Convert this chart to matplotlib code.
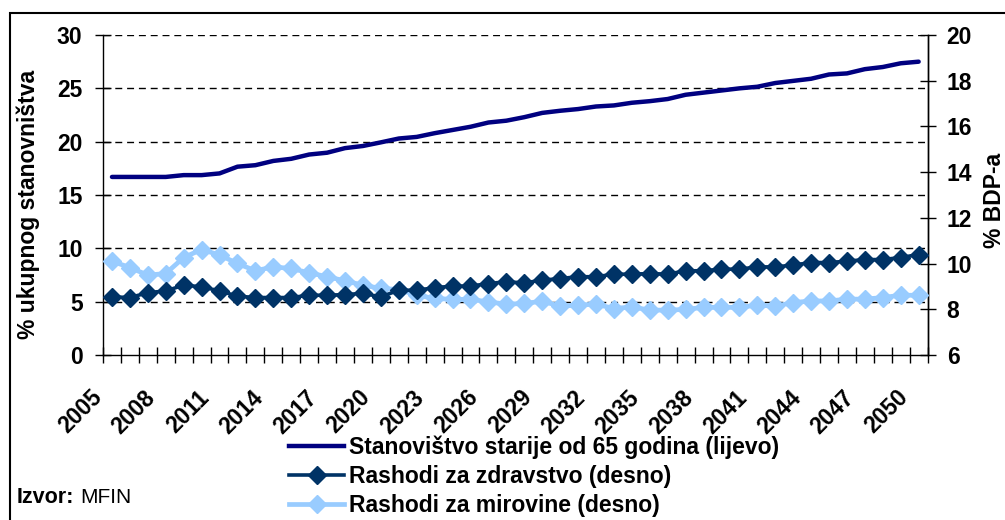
import matplotlib
matplotlib.use('Agg')
import matplotlib.pyplot as plt
from matplotlib.patches import Rectangle
from matplotlib.lines import Line2D
from matplotlib.transforms import ScaledTranslation
import numpy as np

years = list(range(2005, 2051))
year_labels = [str(y) if (y - 2005) % 3 == 0 else '' for y in years]

# % of total population aged 65+ (left axis)
population_65 = [16.7, 16.7, 16.7, 16.7, 16.87, 16.87, 17.03, 17.66, 17.8, 18.2,
                 18.4, 18.8, 18.97, 19.4, 19.6, 19.94, 20.3, 20.45, 20.8, 21.1,
                 21.4, 21.8, 21.97, 22.3, 22.7, 22.9, 23.06, 23.3, 23.4, 23.65,
                 23.8, 24.0, 24.4, 24.6, 24.8, 25.0, 25.15, 25.5, 25.7, 25.9,
                 26.3, 26.4, 26.8, 27.0, 27.35, 27.5]

# health expenditure, % GDP (right axis)
health = [8.55, 8.52, 8.73, 8.81, 9.06, 8.99, 8.81, 8.58, 8.52, 8.52,
          8.52, 8.62, 8.62, 8.65, 8.70, 8.55, 8.84, 8.84, 8.95, 9.02,
          9.02, 9.13, 9.21, 9.16, 9.28, 9.35, 9.43, 9.43, 9.54, 9.54,
          9.57, 9.54, 9.69, 9.69, 9.76, 9.76, 9.86, 9.86, 9.94, 10.05,
          10.05, 10.11, 10.18, 10.18, 10.27, 10.40]

# pension expenditure, % GDP (right axis)
pensions = [10.11, 9.83, 9.50, 9.57, 10.27, 10.62, 10.38, 10.01, 9.69, 9.86,
            9.79, 9.60, 9.43, 9.25, 9.06, 8.92, 8.87, 8.62, 8.48, 8.44,
            8.44, 8.33, 8.23, 8.26, 8.36, 8.14, 8.19, 8.23, 8.04, 8.11,
            7.97, 7.97, 8.00, 8.09, 8.09, 8.09, 8.19, 8.14, 8.30, 8.37,
            8.37, 8.45, 8.45, 8.52, 8.62, 8.62]

series_labels = ['Stanovištvo starije od 65 godina (lijevo)',
                 'Rashodi za zdravstvo (desno)',
                 'Rashodi za mirovine (desno)']

plt.rcParams['font.family'] = ['Liberation Sans', 'DejaVu Sans']
plt.rcParams['font.weight'] = 'bold'
FS = 16.5

c_pop = '#000080'
c_health = '#003366'
c_pens = '#99ccff'

fig = plt.figure(figsize=(10.05, 5.2), dpi=100)
ax = fig.add_axes([0.1025, 0.317, 0.8205, 0.6157])
ax2 = ax.twinx()

x = np.arange(len(years))
ax.plot(x, population_65, color=c_pop, lw=3.2, solid_capstyle='round', zorder=5)
ax2.plot(x, pensions, color=c_pens, lw=3.4, marker='D', ms=9.5, zorder=3)
ax2.plot(x, health, color=c_health, lw=2.6, marker='D', ms=9.5, zorder=4)

ax.set_xlim(-0.5, len(years) - 0.5)
ax.set_ylim(0, 30)
ax2.set_ylim(6, 20)
ax.set_yticks(range(0, 31, 5))
ax2.set_yticks(range(6, 21, 2))

ax.set_xticks(np.arange(-0.5, len(years)), minor=False)
ax.set_xticklabels([])
ax.set_xticks(x, minor=True)
ax.set_xticklabels(year_labels, minor=True, rotation=45, ha='right', va='top',
                   rotation_mode='anchor', fontsize=FS, fontweight='bold')
ax.tick_params(axis='x', which='major', direction='inout', length=11.5, width=1)
ax.tick_params(axis='x', which='minor', length=0, pad=12)
shift = ScaledTranslation(-0.22, -0.14, fig.dpi_scale_trans)
for lab in ax.get_xticklabels(minor=True):
    lab.set_transform(lab.get_transform() + shift)

ax.tick_params(axis='y', direction='inout', length=11.5, width=1, labelsize=FS, pad=9)
ax2.tick_params(axis='y', direction='inout', length=11.5, width=1, labelsize=FS, pad=8)

for a in (ax, ax2):
    a.spines['top'].set_visible(False)
    for s in a.spines.values():
        s.set_linewidth(1)
ax2.spines['left'].set_visible(False)
ax2.spines['bottom'].set_visible(False)

for v in range(5, 31, 5):
    ax.axhline(v, color='black', lw=1, dashes=(5, 3.5), zorder=1)

ax.set_ylabel('% ukupnog stanovništva', fontsize=FS, fontweight='bold')
ax.yaxis.set_label_coords(-0.077, 0.47)
ax2.set_ylabel('% BDP-a', fontsize=FS, fontweight='bold')
ax2.yaxis.set_label_coords(1.067, 0.484)

handles = [Line2D([], [], color=c_pop, lw=3.2),
           Line2D([], [], color=c_health, lw=2.6, marker='D', ms=9.5),
           Line2D([], [], color=c_pens, lw=3.4, marker='D', ms=9.5)]
fig.legend(handles, series_labels, loc='upper left', bbox_to_anchor=(0.288, 0.163),
           frameon=False, fontsize=FS, handlelength=2.4, handletextpad=0.22,
           labelspacing=0.26, borderaxespad=0, borderpad=0)

fig.text(0.017, 0.044, 'Izvor:', fontsize=15.5, fontweight='bold', ha='left', va='center')
fig.text(0.08, 0.044, 'MFIN', fontsize=15, fontweight='normal', ha='left', va='center')

fig.add_artist(Rectangle((9.5 / 1005, -0.1), 1.2, 1.1 - 13.5 / 520,
                         transform=fig.transFigure, fill=False, lw=1.5,
                         edgecolor='black'))

fig.savefig('out.png', dpi=100)
